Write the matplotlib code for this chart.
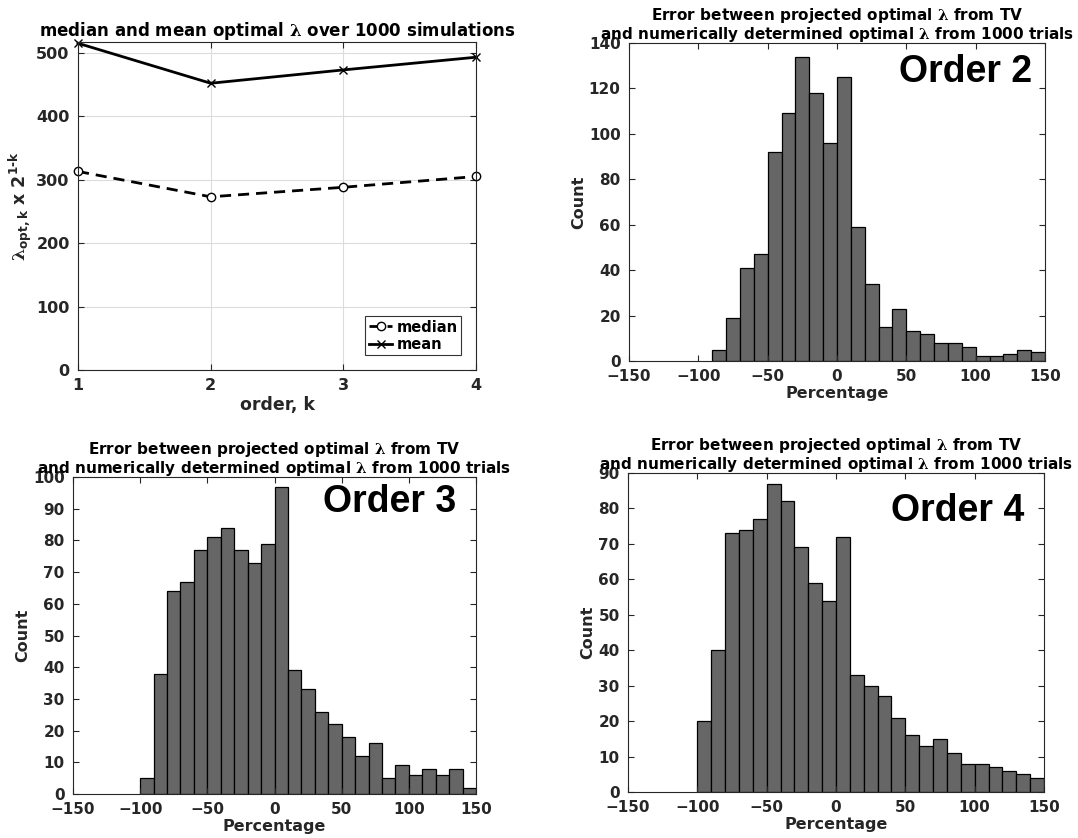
import numpy as np
import matplotlib
matplotlib.use("Agg")
import matplotlib.pyplot as plt

plt.rcParams['font.family'] = ['DejaVu Sans']
plt.rcParams['font.weight'] = 'bold'
plt.rcParams['mathtext.fontset'] = 'custom'
plt.rcParams['mathtext.rm'] = 'DejaVu Serif'
plt.rcParams['mathtext.bf'] = 'DejaVu Sans:bold'

# ---------------------------- data ----------------------------
orders = [1, 2, 3, 4]
lam_median = [313, 273, 288, 305]
lam_mean = [515, 452, 473, 493]

bin_width = 10
start2 = -90
counts2 = [5, 19, 41, 47, 92, 109, 134, 118, 96, 125, 59, 34, 15, 23,
           13, 12, 8, 8, 6, 2, 2, 3, 5, 4]
start3 = -100
counts3 = [5, 38, 64, 67, 77, 81, 84, 77, 73, 79, 97, 39, 33, 26, 22,
           18, 12, 16, 5, 9, 6, 8, 6, 8, 2]
start4 = -100
counts4 = [20, 40, 73, 74, 77, 87, 82, 69, 59, 54, 72, 33, 30, 27, 21,
           16, 13, 15, 11, 8, 8, 7, 6, 5, 4]

hist_title = ("Error between projected optimal $\\mathrm{\\lambda}$ from TV\n"
              "and numerically determined optimal $\\mathrm{\\lambda}$ from 1000 trials")

AX_COL = '#262626'
W, H = 1078, 838


def px_axes(fig, left, right, top, bottom):
    return fig.add_axes([left / W, 1 - bottom / H, (right - left) / W, (bottom - top) / H])


def style(ax, size=11):
    for s in ax.spines.values():
        s.set_color(AX_COL)
        s.set_linewidth(0.8)
    ax.tick_params(direction='in', top=True, right=True, colors=AX_COL,
                   labelsize=size, length=4, width=0.8)
    ax.tick_params(axis='x', pad=6)
    ax.tick_params(axis='y', pad=6)
    for lab in ax.get_xticklabels() + ax.get_yticklabels():
        lab.set_fontweight('bold')


fig = plt.figure(figsize=(W / 100, H / 100), dpi=100)

# ---------------------- median / mean plot ----------------------
ax = px_axes(fig, 78, 476, 42, 370)
ax.plot(orders, lam_median, color='black', linestyle=(0, (4, 2.5)), linewidth=2, marker='o',
        markersize=6, markerfacecolor='white', markeredgewidth=1, label='median', clip_on=False)
ax.plot(orders, lam_mean, color='black', linestyle='-', linewidth=2, marker='x',
        markersize=6, markeredgewidth=1, label='mean', clip_on=False)
ax.set_xlim(1, 4)
ax.set_ylim(0, 517)
ax.set_xticks(orders)
ax.set_yticks([0, 100, 200, 300, 400, 500])
ax.grid(True, color='#dcdcdc', linewidth=0.8)
style(ax, 11.5)
ax.set_title("median and mean optimal $\\mathrm{\\lambda}$ over 1000 simulations",
             fontsize=12, fontweight='bold', color='black', pad=4)
ax.set_xlabel("order, k", fontsize=12.5, fontweight='bold', color=AX_COL, labelpad=2)
ax.set_ylabel("$\\mathrm{\\lambda}_{\\mathbf{opt,k}}$ $\\mathbf{x\\ 2^{1\\text{-}k}}$",
              fontsize=12.5, color=AX_COL, labelpad=2)
leg = ax.legend(loc='lower right', fontsize=10.5, frameon=True, fancybox=False,
                handlelength=1.6, borderpad=0.25, labelspacing=0.15, handletextpad=0.3,
                borderaxespad=1.0)
leg.get_frame().set_edgecolor('black')
leg.get_frame().set_linewidth(0.8)
for t in leg.get_texts():
    t.set_fontweight('bold')


# -------------------------- histograms --------------------------
def hist_panel(box, start, counts, ymax, ystep, label, lx, ly):
    ax = px_axes(fig, *box)
    lefts = start + bin_width * np.arange(len(counts))
    ax.bar(lefts, counts, width=bin_width, align='edge', color='#666666',
           edgecolor='black', linewidth=0.9)
    ax.set_xlim(-150, 150)
    ax.set_ylim(0, ymax)
    ax.set_xticks([-150, -100, -50, 0, 50, 100, 150])
    ax.set_yticks(np.arange(0, ymax + 1, ystep))
    style(ax, 11)
    ax.set_title(hist_title, fontsize=11, fontweight='bold', color='black',
                 linespacing=1.0, pad=3)
    ax.set_xlabel("Percentage", fontsize=11.5, fontweight='bold', color=AX_COL, labelpad=1)
    ax.set_ylabel("Count", fontsize=11.5, fontweight='bold', color=AX_COL, labelpad=2)
    ax.text(lx, ly, label, transform=ax.transAxes, ha='right', va='baseline',
            fontsize=27, fontweight='bold', family='Liberation Sans', color='black')
    return ax


hist_panel((629, 1045, 43, 361), start2, counts2, 140, 20, "Order 2", 0.969, 0.877)
hist_panel((73, 476, 477, 794), start3, counts3, 100, 10, "Order 3", 0.95, 0.89)
hist_panel((628, 1044, 473, 792), start4, counts4, 90, 10, "Order 4", 0.954, 0.85)

fig.savefig("out.png", dpi=100)
